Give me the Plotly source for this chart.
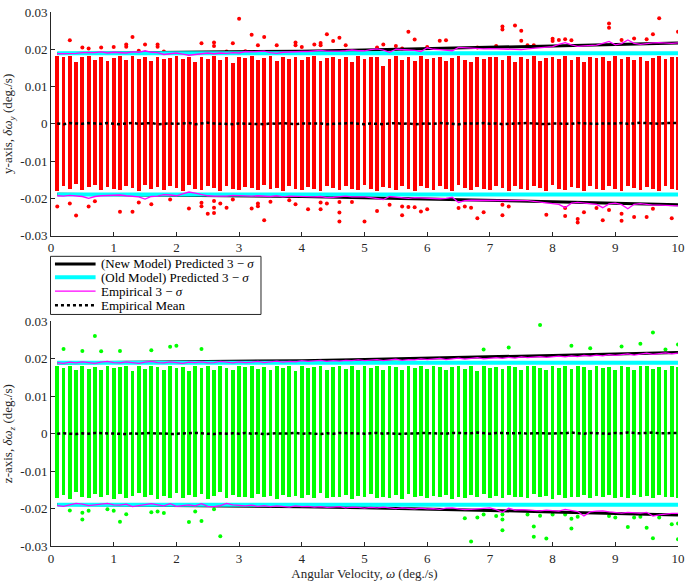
import plotly.graph_objects as go

# ---------------- data (values in units of 1e-3 deg/s) ----------------
x_cols = [round(0.1 * i, 1) for i in range(1, 101)]

# top panel (y-axis) dense band extents
band_hi_y = [18.3,17.8,18.2,16.5,17.9,18.1,17.2,18.0,16.8,17.6,
             18.2,17.0,18.1,17.5,17.9,16.9,18.0,17.3,17.7,18.2,
             17.4,17.9,16.6,18.0,17.5,18.1,17.2,17.8,16.4,18.0,
             17.6,18.2,17.0,17.7,18.1,16.8,17.9,17.4,18.0,17.1,
             17.8,18.2,16.9,17.6,18.0,17.3,17.9,16.7,18.1,17.5,
             17.9,18.0,15.6,17.4,18.1,17.0,17.8,16.8,18.2,17.5,
             17.7,18.0,16.9,17.6,18.1,17.2,16.6,17.9,17.4,18.0,
             17.8,17.1,18.1,16.7,17.9,17.5,18.2,16.9,17.6,18.0,
             17.4,18.1,17.0,17.8,16.5,18.0,17.6,17.9,16.8,18.1,
             17.5,17.9,17.2,18.0,16.9,17.7,18.1,17.4,17.8,18.0]
band_lo_y = [-17.9,-16.8,-17.5,-16.2,-17.8,-17.0,-16.5,-17.7,-16.9,-17.4,
             -17.8,-16.6,-17.2,-17.9,-16.4,-17.6,-17.0,-17.8,-16.7,-17.3,
             -17.9,-16.5,-17.4,-17.7,-16.8,-17.1,-17.9,-16.6,-17.5,-17.8,
             -16.9,-17.3,-17.8,-16.4,-17.6,-17.2,-17.9,-16.7,-17.4,-17.8,
             -16.9,-17.5,-17.9,-16.6,-17.2,-17.8,-16.8,-17.5,-17.7,-16.5,
             -17.4,-17.9,-16.9,-17.3,-17.8,-16.6,-17.5,-17.9,-16.8,-17.2,
             -17.8,-16.7,-17.4,-17.9,-16.5,-17.3,-17.8,-16.9,-17.5,-17.7,
             -16.6,-17.2,-17.9,-16.8,-17.4,-17.8,-16.7,-17.3,-17.9,-16.5,
             -17.6,-17.8,-16.9,-17.2,-17.9,-16.6,-17.5,-17.8,-16.8,-17.4,
             -17.9,-16.7,-17.3,-17.8,-16.9,-17.5,-17.9,-16.6,-17.4,-17.8]

# bottom panel (z-axis) dense band extents
band_hi_z = [18.0,17.4,17.9,16.8,18.1,17.2,17.8,16.9,18.0,17.5,
             17.7,18.1,16.6,17.9,17.3,18.0,17.6,16.9,18.1,17.4,
             17.8,16.7,18.0,17.5,17.9,17.0,18.1,17.4,16.8,17.9,
             17.6,18.0,17.1,17.8,16.9,18.1,17.5,17.9,16.7,18.0,
             17.4,17.8,18.1,16.9,17.6,18.0,17.2,17.9,16.8,18.1,
             17.5,17.9,17.0,18.0,17.6,16.8,18.1,17.4,17.9,17.1,
             18.0,17.6,16.9,17.8,18.1,17.3,17.9,16.7,18.0,17.5,
             17.8,17.1,18.1,17.6,16.9,17.9,18.0,17.4,16.8,18.1,
             17.5,17.9,17.2,18.0,17.7,16.9,18.1,17.5,17.8,17.0,
             18.0,17.6,16.8,17.9,18.1,17.3,17.8,17.0,18.0,17.6]
band_lo_z = [-17.2,-16.5,-17.6,-15.8,-16.9,-17.4,-16.2,-17.0,-16.6,-17.5,
             -16.1,-17.3,-16.8,-15.9,-17.1,-16.4,-17.6,-16.7,-17.2,-16.0,
             -17.4,-16.6,-17.0,-16.3,-17.5,-16.8,-15.7,-17.2,-16.5,-17.0,
             -16.9,-17.4,-16.2,-17.1,-16.7,-17.5,-16.4,-17.0,-16.8,-17.3,
             -16.6,-17.2,-16.0,-17.4,-16.9,-17.1,-16.5,-17.6,-16.8,-17.0,
             -16.3,-17.4,-16.9,-17.2,-16.6,-17.5,-16.1,-17.0,-16.8,-17.3,
             -16.7,-17.1,-16.4,-17.5,-16.9,-17.2,-16.6,-17.0,-16.3,-17.4,
             -16.8,-17.2,-16.5,-17.0,-16.9,-17.4,-16.2,-17.1,-16.7,-17.5,
             -16.6,-17.2,-16.9,-17.0,-16.4,-17.3,-16.8,-17.1,-16.5,-17.4,
             -16.9,-17.2,-16.6,-17.0,-16.8,-17.3,-16.5,-17.1,-16.9,-17.2]

# outlier points, top panel
out_x_y = [0.3,0.5,0.6,0.8,1.0,1.2,1.2,1.3,1.4,1.5,1.7,1.7,1.8,2.4,2.6,2.6,2.8,2.9,3.0,3.1,
           3.2,3.3,3.4,3.6,3.9,3.9,4.0,4.2,4.3,4.3,4.4,4.5,4.6,4.7,5.2,5.3,5.5,5.6,5.7,5.8,
           6.0,6.2,6.3,6.8,7.1,7.2,7.2,7.4,7.5,7.5,7.6,7.7,8.0,8.0,8.1,8.2,8.3,8.9,8.9,9.1,
           9.3,9.5,9.6,9.7,10.0,
           0.1,0.3,0.4,0.6,0.7,1.1,1.3,1.4,1.6,1.9,2.2,2.4,2.4,2.5,2.6,2.6,2.6,2.7,2.8,2.9,
           3.2,3.3,3.3,3.4,3.5,3.8,3.9,4.1,4.3,4.3,4.4,4.6,4.6,4.6,4.8,5.0,5.2,5.4,5.6,5.6,
           5.7,5.8,5.9,6.0,6.5,6.6,6.7,6.8,6.9,7.2,7.2,7.3,7.9,8.2,8.2,8.4,8.4,8.5,8.7,8.8,
           8.9,9.1,9.1,9.3,9.5,9.6,9.9]
out_v_y = [22.4,20.5,20.2,20.5,20.6,21.3,20.7,23.3,19.6,21.3,21.3,20.7,19.4,21.6,21.8,20.9,19.4,21.6,28.2,19.5,
           23.9,21.1,23.3,21.1,21.8,21.1,20.6,21.3,21.7,21.1,24.0,22.2,23.1,21.1,20.5,21.3,20.9,20.2,24.7,22.6,
           20.6,22.3,22.4,20.5,20.9,26.1,25.3,26.4,25.0,22.3,21.1,21.1,22.8,22.2,22.5,22.7,22.4,26.9,25.8,22.5,
           22.9,22.7,24.0,28.3,24.7,
           -22.2,-21.4,-24.6,-22.2,-20.8,-23.6,-23.6,-21.1,-21.6,-20.3,-22.7,-21.2,-22.1,-24.1,-20.7,-22.5,-23.9,-21.4,-22.5,-20.3,
           -22.7,-21.4,-22.1,-25.9,-20.9,-20.5,-21.6,-22.9,-21.1,-22.9,-21.4,-21.0,-23.8,-26.2,-21.0,-26.2,-23.4,-21.7,-22.2,-24.5,
           -22.3,-22.4,-23.5,-22.9,-22.6,-22.2,-22.5,-25.3,-23.7,-21.7,-24.5,-22.2,-24.4,-22.6,-24.7,-25.5,-26.5,-23.7,-22.6,-25.9,
           -23.1,-24.1,-26.0,-25.0,-25.0,-22.8,-25.3]

# outlier points, bottom panel
out_x_z = [0.2,0.5,0.7,0.8,1.1,1.6,1.9,2.0,2.4,
           6.9,7.3,7.8,8.3,8.6,9.1,9.4,9.6,9.8,10.0,
           0.3,0.5,0.5,0.6,0.9,1.0,1.1,1.2,1.6,1.7,1.8,2.2,2.3,2.4,2.6,2.7,
           6.6,6.7,6.8,6.9,7.1,7.2,7.2,7.2,7.6,7.7,7.7,7.8,7.9,8.0,8.2,8.3,8.3,8.4,8.9,9.0,
           9.2,9.3,9.4,9.5,9.6,9.7,9.9,10.0,10.0]
out_v_z = [22.6,22.1,26.1,22.0,22.1,22.3,23.2,23.5,22.6,
           22.5,23.0,29.0,23.5,22.8,23.3,24.0,27.0,22.5,23.8,
           -20.5,-21.1,-22.9,-20.6,-20.2,-20.6,-23.5,-21.5,-21.0,-20.8,-21.2,-23.6,-20.8,-23.3,-20.2,-27.4,
           -22.6,-28.8,-22.4,-21.6,-22.0,-21.6,-22.9,-25.8,-21.6,-24.8,-27.5,-21.9,-28.0,-21.6,-21.6,-22.7,-25.3,-22.2,-22.0,-22.4,
           -24.9,-22.4,-22.2,-25.1,-27.9,-22.4,-24.2,-24.0,-28.2]

# model curves (predicted 3-sigma), sampled at integer velocities
model_x = [0.1, 1, 2, 3, 4, 5, 6, 7, 8, 9, 10]
new_model = [18.9, 19.0, 19.1, 19.3, 19.5, 19.8, 20.1, 20.5, 20.9, 21.3, 21.7]
old_model = [18.95, 18.95, 18.95, 18.95, 18.95, 18.95, 18.95, 18.95, 18.95, 18.95, 18.95]

# empirical 3-sigma, top panel
emp_hi_y = [18.8,18.8,18.9,18.9,19.1,19.0,19.1,19.3,19.0,19.2,
            19.1,19.0,19.3,19.2,19.6,19.2,19.1,18.6,18.8,19.0,
            18.7,18.4,18.6,18.9,19.0,18.8,19.0,18.9,19.1,19.0,
            19.4,19.3,19.4,19.5,19.1,18.9,19.2,19.3,19.5,19.4,
            19.4,19.6,19.7,19.5,19.4,19.5,19.6,19.8,19.6,19.6,
            19.9,20.1,19.8,19.2,20.0,20.0,19.8,19.7,19.4,20.4,
            20.0,19.9,19.8,19.6,20.5,20.4,20.1,20.0,20.1,20.2,
            20.1,20.2,20.1,20.0,19.9,20.1,20.3,20.4,20.6,20.7,
            21.3,21.8,21.2,20.8,20.9,21.0,21.1,21.6,22.1,21.2,
            21.5,22.5,21.6,21.3,21.6,21.7,21.8,21.6,21.6,21.7]
emp_lo_y = [-19.3,-19.4,-19.2,-19.3,-19.5,-20.0,-19.5,-19.3,-19.2,-19.0,
            -19.1,-19.3,-19.4,-19.6,-20.2,-19.5,-19.4,-19.0,-19.1,-19.3,
            -18.8,-18.3,-18.6,-19.0,-19.3,-19.4,-19.5,-19.4,-19.2,-19.3,
            -19.5,-19.4,-19.3,-19.4,-19.5,-19.3,-19.6,-19.4,-19.5,-19.6,
            -19.7,-19.6,-19.5,-19.8,-19.7,-19.5,-19.4,-19.6,-19.5,-19.6,
            -19.8,-20.1,-20.3,-19.5,-19.7,-19.9,-20.0,-19.8,-19.9,-20.1,
            -20.0,-20.1,-20.0,-19.7,-21.1,-20.6,-20.5,-20.5,-20.6,-20.5,
            -20.6,-20.5,-20.6,-20.7,-20.7,-20.6,-20.8,-21.0,-21.2,-21.4,
            -21.6,-22.5,-21.3,-21.1,-21.2,-21.4,-21.6,-22.5,-21.5,-21.3,
            -21.7,-22.8,-21.6,-21.4,-21.6,-21.8,-21.8,-21.9,-22.0,-22.0]
mean_y = [0.1,-0.1,0.2,0.1,0.0,0.2,0.1,0.0,0.2,0.0,
          -0.1,0.1,0.2,0.0,0.1,0.2,-0.1,0.0,0.1,0.0,
          0.1,0.2,-0.1,0.0,0.3,0.1,0.0,0.0,-0.1,0.1,
          0.0,0.1,0.0,-0.1,0.1,0.0,0.2,0.0,-0.1,0.1,
          0.0,0.1,0.1,-0.1,0.0,0.1,0.0,0.2,0.0,-0.1,
          0.1,0.0,-0.1,0.1,0.2,0.0,0.1,-0.1,0.0,0.1,
          0.0,0.2,0.1,0.0,-0.1,0.1,0.0,0.1,0.2,0.0,
          0.1,-0.1,0.0,0.1,0.0,0.2,0.1,0.0,-0.1,0.1,
          0.0,0.1,0.0,0.2,0.1,-0.1,0.0,0.1,0.0,0.1,
          0.2,0.0,0.1,0.3,0.2,0.1,0.0,0.2,0.1,0.2]

# empirical 3-sigma, bottom panel
emp_hi_z = [19.0,18.8,19.1,18.9,19.2,19.0,18.8,19.1,19.3,19.0,
            18.9,19.2,19.0,18.8,19.1,19.3,19.0,18.9,19.2,19.0,
            18.8,19.1,19.0,19.2,18.9,19.0,19.3,19.1,18.9,19.2,
            19.0,19.1,19.3,19.0,19.2,19.4,19.1,19.3,19.2,19.5,
            19.3,19.4,19.6,19.3,19.5,19.4,19.6,19.5,19.7,19.5,
            19.6,19.8,19.5,19.7,19.9,19.6,19.8,19.7,20.0,19.8,
            19.9,20.1,19.8,20.0,20.2,19.9,20.1,20.3,20.0,20.2,
            20.3,20.1,20.4,20.2,20.5,20.3,20.4,20.6,20.4,20.6,
            20.7,20.5,20.8,20.6,20.9,20.7,21.0,20.8,21.1,20.9,
            21.1,21.3,21.0,21.2,21.5,21.2,21.4,21.6,21.3,21.5]
emp_lo_z = [-19.2,-19.4,-19.0,-18.6,-18.8,-19.2,-19.0,-18.7,-18.6,-19.0,
            -19.1,-18.8,-19.5,-19.2,-19.0,-18.7,-19.0,-19.3,-18.7,-19.4,
            -19.2,-19.0,-19.3,-18.7,-19.4,-19.5,-19.2,-18.6,-19.0,-19.2,
            -19.3,-19.1,-19.4,-19.2,-19.5,-19.3,-19.4,-19.6,-19.3,-19.5,
            -19.4,-19.6,-19.5,-19.7,-19.6,-19.5,-19.8,-19.6,-19.7,-19.9,
            -19.7,-19.8,-19.6,-19.9,-20.0,-19.8,-20.0,-20.1,-19.9,-20.1,
            -20.0,-20.2,-19.9,-19.8,-20.1,-20.3,-20.2,-20.0,-19.9,-19.8,
            -20.3,-21.0,-19.9,-20.4,-20.3,-20.4,-20.5,-20.6,-20.4,-20.6,
            -20.7,-20.2,-20.6,-20.8,-22.0,-20.9,-20.7,-20.6,-20.9,-21.1,
            -21.2,-21.0,-21.1,-21.2,-21.0,-22.0,-21.7,-21.4,-21.3,-21.3]
mean_z = [0.0,0.1,0.0,-0.1,0.1,0.0,0.2,0.1,0.0,0.1,
          0.0,-0.1,0.1,0.0,0.1,0.2,0.0,0.1,-0.1,0.0,
          0.1,0.0,0.2,0.1,0.0,-0.1,0.1,0.0,0.1,0.0,
          0.2,0.0,0.1,-0.1,0.0,0.1,0.0,0.1,0.2,0.0,
          0.1,0.0,-0.1,0.1,0.0,0.2,0.1,0.0,0.1,0.0,
          0.1,0.2,0.0,0.1,0.0,-0.1,0.1,0.0,0.2,0.1,
          0.0,0.1,0.0,0.2,0.1,0.0,0.1,0.3,0.1,0.0,
          0.2,0.1,0.0,0.1,0.2,0.0,0.1,0.2,0.1,0.0,
          0.2,0.1,0.3,0.1,0.0,0.2,0.1,0.2,0.0,0.2,
          0.1,0.3,0.2,0.1,0.2,0.3,0.1,0.2,0.3,0.2]

y_ticks = [-0.03, -0.02, -0.01, 0, 0.01, 0.02, 0.03]
y_tick_text = ["-0.03", "-0.02", "-0.01", "0", "0.01", "0.02", "0.03"]
x_ticks = list(range(0, 11))

S = 1e-3
def sc(a):
    return [v * S for v in a]

FONT = "Liberation Serif, Times New Roman, DejaVu Serif, serif"
AX = "#262626"

fig = go.Figure()

def add_panel(xa, ya, color, hi, lo, ox, ov, ehi, elo, mean):
    fig.add_trace(go.Bar(x=x_cols, y=[(h - l) * S for h, l in zip(hi, lo)], base=sc(lo),
                         width=0.06, marker=dict(color=color, line=dict(width=0)),
                         xaxis=xa, yaxis=ya, showlegend=False, hoverinfo="skip"))
    fig.add_trace(go.Scatter(x=ox, y=sc(ov), mode="markers",
                             marker=dict(color=color, size=4), xaxis=xa, yaxis=ya,
                             showlegend=False))
    for sgn in (1, -1):
        fig.add_trace(go.Scatter(x=model_x, y=[sgn * v * S for v in new_model], mode="lines",
                                 line=dict(color="black", width=3), xaxis=xa, yaxis=ya,
                                 showlegend=False))
    for sgn in (1, -1):
        fig.add_trace(go.Scatter(x=model_x, y=[sgn * v * S for v in old_model], mode="lines",
                                 line=dict(color="#00FFFF", width=4), xaxis=xa, yaxis=ya,
                                 showlegend=False))
    for arr in (ehi, elo):
        fig.add_trace(go.Scatter(x=x_cols, y=sc(arr), mode="lines",
                                 line=dict(color="#FF00FF", width=1.3), xaxis=xa, yaxis=ya,
                                 showlegend=False))
    fig.add_trace(go.Scatter(x=x_cols, y=sc(mean), mode="lines",
                             line=dict(color="black", width=2.5, dash="dot"), xaxis=xa, yaxis=ya,
                             showlegend=False))

add_panel("x", "y", "#FF0000", band_hi_y, band_lo_y, out_x_y, out_v_y, emp_hi_y, emp_lo_y, mean_y)
add_panel("x2", "y2", "#00FF00", band_hi_z, band_lo_z, out_x_z, out_v_z, emp_hi_z, emp_lo_z, mean_z)

W, H = 690, 582
ML, MR, MT, MB = 50, 7, 5, 35
PW, PH = W - ML - MR, H - MT - MB

def px(xp):
    return (xp - ML) / PW
def py(yp):
    return (H - MB - yp) / PH

axis_common = dict(showline=True, linecolor=AX, linewidth=1, ticks="inside", ticklen=4,
                   tickcolor=AX, tickwidth=1, showgrid=False, zeroline=False,
                   tickfont=dict(family=FONT, size=13, color=AX), mirror=False)

fig.update_layout(
    width=W, height=H, margin=dict(l=ML, r=MR, t=MT, b=MB),
    paper_bgcolor="white", plot_bgcolor="white", barmode="overlay", bargap=0,
    showlegend=False,
    xaxis=dict(domain=[0, 1], anchor="y", range=[0, 10], tickvals=x_ticks, **axis_common),
    yaxis=dict(domain=[py(232), 1], anchor="x", range=[-0.03, 0.03], tickvals=y_ticks,
               ticktext=y_tick_text,
               title=dict(text="y-axis, <i>δω</i><sub><i>y</i></sub> (deg./s)",
                          font=dict(family=FONT, size=13, color=AX), standoff=6),
               **axis_common),
    xaxis2=dict(domain=[0, 1], anchor="y2", range=[0, 10], tickvals=x_ticks,
                title=dict(text="Angular Velocity, <i>ω</i> (deg./s)",
                           font=dict(family=FONT, size=13, color=AX), standoff=2),
                **axis_common),
    yaxis2=dict(domain=[0, py(319)], anchor="x2", range=[-0.03, 0.03], tickvals=y_ticks,
                ticktext=y_tick_text,
                title=dict(text="z-axis, <i>δω</i><sub><i>z</i></sub> (deg./s)",
                           font=dict(family=FONT, size=13, color=AX), standoff=6),
                **axis_common),
)

# manual legend
leg_l, leg_r, leg_t, leg_b = 49.5, 262, 253, 312
shapes = [dict(type="rect", xref="paper", yref="paper", x0=px(leg_l), x1=px(leg_r),
               y0=py(leg_b), y1=py(leg_t), line=dict(color=AX, width=1), fillcolor="white")]
leg_items = [("(New Model) Predicted 3 − <i>σ</i>", dict(color="black", width=3)),
             ("(Old Model) Predicted 3 − <i>σ</i>", dict(color="#00FFFF", width=4)),
             ("Empirical 3 − <i>σ</i>", dict(color="#FF00FF", width=1.3)),
             ("Empirical Mean", dict(color="black", width=2.5, dash="dot"))]
leg_y = [260.7, 274.3, 288.3, 302.7]
annots = []
for (txt, ln), yy in zip(leg_items, leg_y):
    shapes.append(dict(type="line", xref="paper", yref="paper", x0=px(54), x1=px(95),
                       y0=py(yy), y1=py(yy), line=ln))
    annots.append(dict(xref="paper", yref="paper", x=px(98), y=py(yy), text=txt,
                       showarrow=False, xanchor="left", yanchor="middle",
                       font=dict(family=FONT, size=13, color="black")))
fig.update_layout(shapes=shapes, annotations=annots)

fig.write_html("out.html")
